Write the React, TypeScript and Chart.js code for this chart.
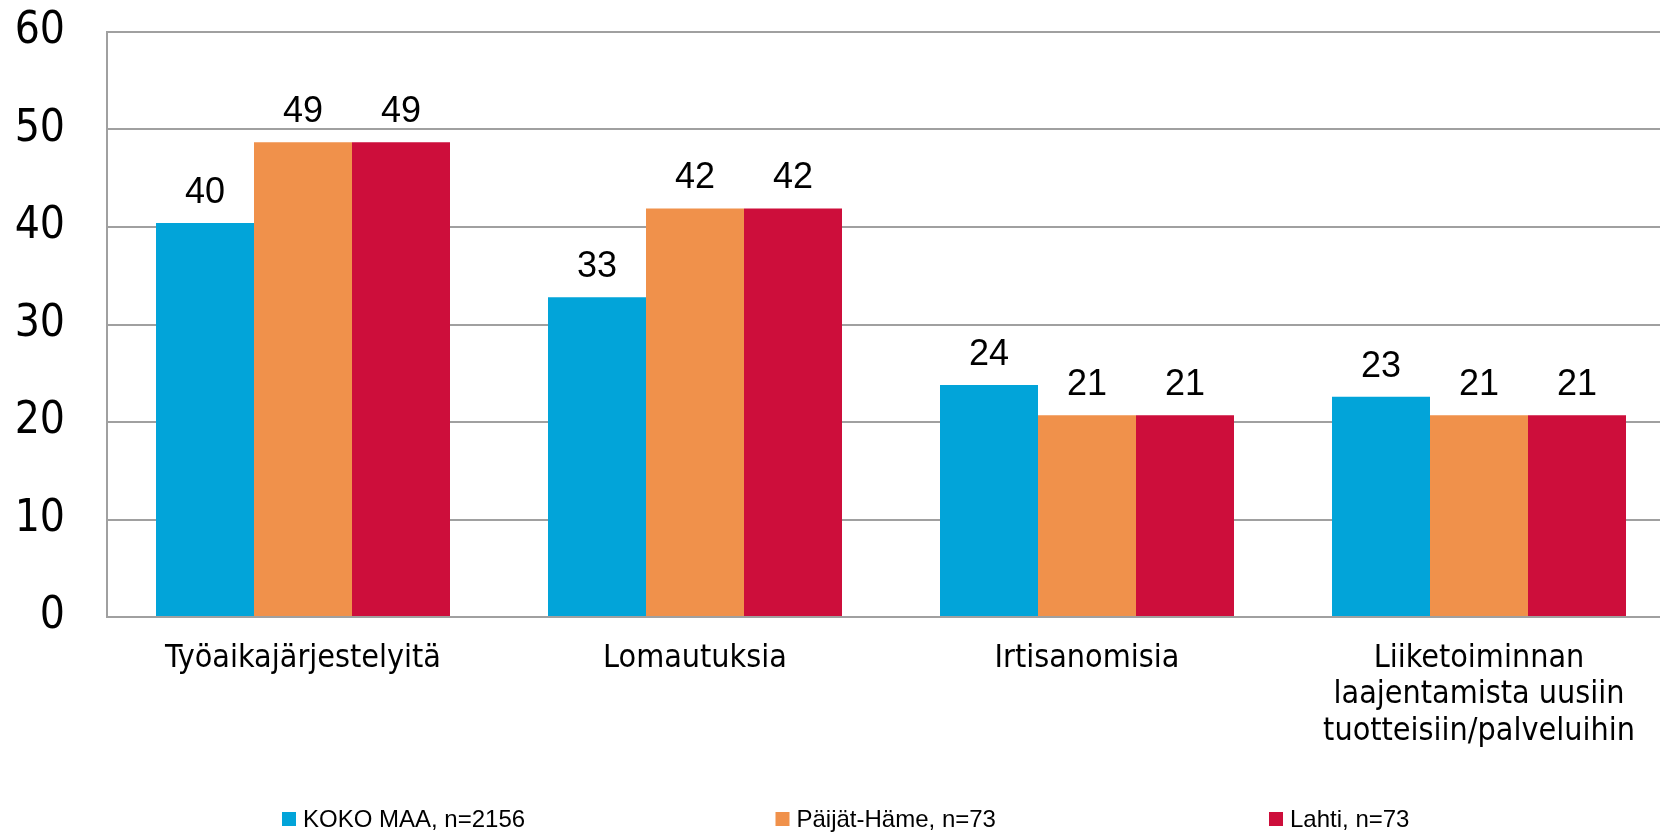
import React, { useEffect, useRef } from "react";
import { Chart, registerables } from "chart.js";

Chart.register(...registerables);

// ---- data ----
const categories: string[][] = [
  ["Työaikajärjestelyitä"],
  ["Lomautuksia"],
  ["Irtisanomisia"],
  ["Liiketoiminnan", "laajentamista uusiin", "tuotteisiin/palveluihin"],
];
const seriesNames = ["KOKO MAA, n=2156", "Päijät-Häme, n=73", "Lahti, n=73"];
const kokoMaa = [40.4, 32.8, 23.8, 22.6];
const paijatHame = [48.7, 41.9, 20.7, 20.7];
const lahti = [48.7, 41.9, 20.7, 20.7];
const yMin = 0;
const yMax = 60;
const yStep = 10;

// ---- styles ----
const colors = ["#02A4D9", "#F0914B", "#CD0E3B"];
const AXIS_FONT = '"DejaVu Sans Condensed", "DejaVu Sans", sans-serif';
const LABEL_FONT = '"Liberation Sans", Arial, sans-serif';
const GRID = "#a0a0a0";

const valueLabels = {
  id: "valueLabels",
  afterDatasetsDraw(chart: any) {
    const ctx = chart.ctx;
    ctx.save();
    ctx.font = `36px ${LABEL_FONT}`;
    ctx.fillStyle = "#000";
    ctx.textAlign = "center";
    ctx.textBaseline = "alphabetic";
    chart.data.datasets.forEach((ds: any, di: number) => {
      const meta = chart.getDatasetMeta(di);
      meta.data.forEach((bar: any, i: number) => {
        ctx.fillText(String(Math.round(ds.data[i])), bar.x, bar.y - 20);
      });
    });
    ctx.restore();
  },
};

const customLegend = {
  id: "customLegend",
  afterDraw(chart: any) {
    const ctx = chart.ctx;
    ctx.save();
    ctx.font = `24px ${LABEL_FONT}`;
    ctx.textAlign = "left";
    ctx.textBaseline = "alphabetic";
    chart.data.datasets.forEach((ds: any, i: number) => {
      const x = 282 + i * 493.5;
      ctx.fillStyle = ds.backgroundColor;
      ctx.fillRect(x, 812, 14, 14);
      ctx.fillStyle = "#000";
      ctx.fillText(ds.label, x + 21, 827);
    });
    ctx.restore();
  },
};

export default function App() {
  const ref = useRef<HTMLCanvasElement>(null);
  useEffect(() => {
    if (!ref.current) return;
    const chart = new Chart(ref.current, {
      type: "bar",
      data: {
        labels: categories,
        datasets: [kokoMaa, paijatHame, lahti].map((d, i) => ({
          label: seriesNames[i],
          data: d,
          backgroundColor: colors[i],
          borderWidth: 0,
          categoryPercentage: 0.75,
          barPercentage: 1.0,
        })),
      },
      options: {
        responsive: false,
        animation: false,
        layout: { padding: { top: 32, left: 0, right: 0, bottom: 0 } },
        plugins: {
          legend: { display: false },
          tooltip: { enabled: false },
        },
        scales: {
          x: {
            grid: { display: false, drawTicks: false },
            border: { display: true, color: GRID, width: 2 },
            ticks: {
              color: "#000",
              padding: 23,
              maxRotation: 0,
              autoSkip: false,
              font: { family: AXIS_FONT, size: 32, lineHeight: 1.14 },
            },
            afterFit(scale: any) {
              scale.height = 215;
              scale.paddingLeft = 0;
              scale.paddingRight = 0;
            },
          },
          y: {
            min: yMin,
            max: yMax,
            grid: { color: GRID, lineWidth: 2, drawTicks: false },
            border: { display: true, color: GRID, width: 2 },
            ticks: {
              stepSize: yStep,
              color: "#000",
              padding: 42,
              font: { family: AXIS_FONT, size: 44 },
            },
            afterFit(scale: any) {
              scale.width = 107;
              scale.paddingTop = 0;
              scale.paddingBottom = 0;
            },
          },
        },
      },
      plugins: [valueLabels, customLegend],
    });
    return () => chart.destroy();
  }, []);

  return (
    <div
      style={{
        position: "absolute",
        left: 0,
        top: 0,
        width: 1660,
        height: 832,
        overflow: "hidden",
        background: "#fff",
      }}
    >
      <canvas ref={ref} width={1675} height={832} style={{ width: 1675, height: 832, display: "block" }} />
    </div>
  );
}
